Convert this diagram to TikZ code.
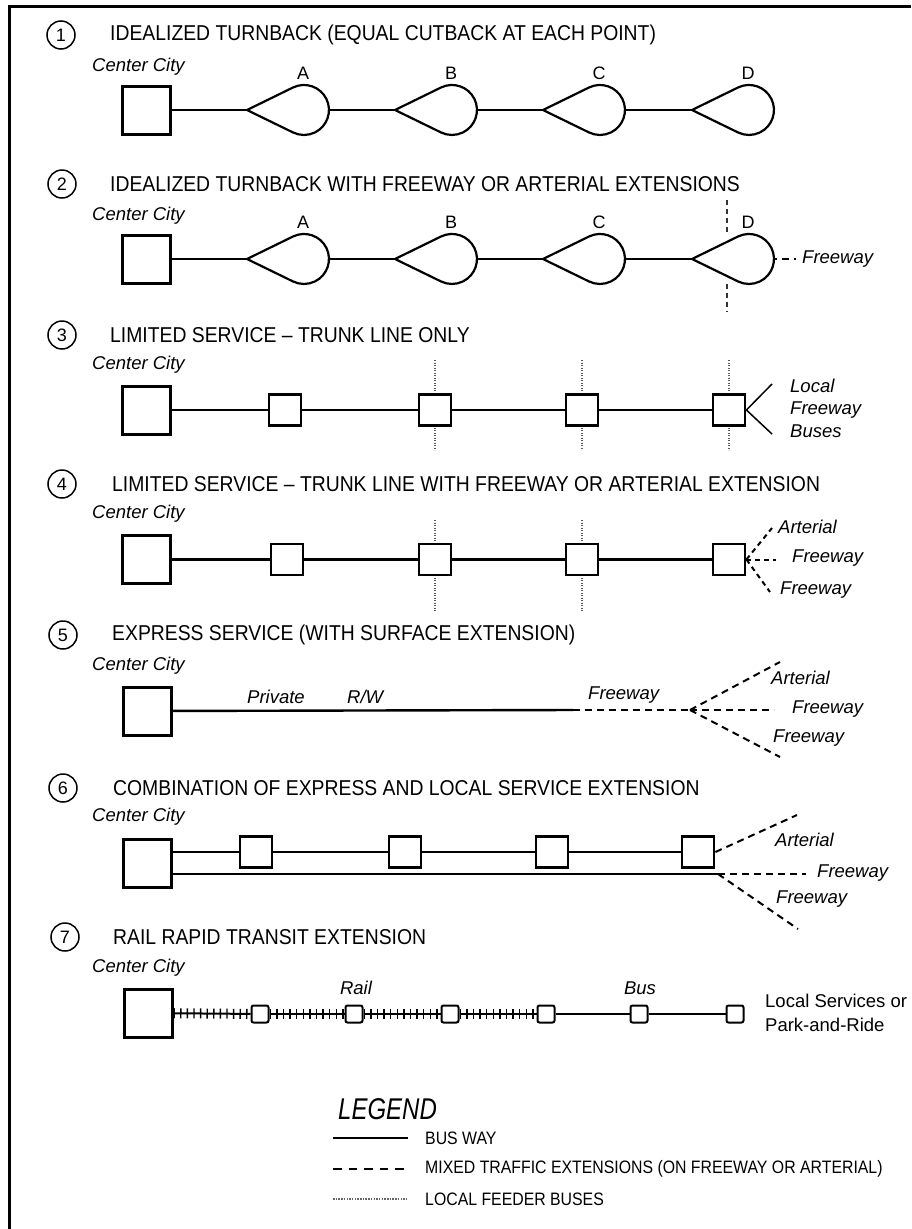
\documentclass[tikz,border=0pt]{standalone}
\usepackage{fontspec}
\setmainfont{Liberation Sans}
\newfontfamily\headfont[FakeStretch=0.9]{Liberation Sans}
\newfontfamily\legfont[FakeStretch=0.88]{Liberation Sans}
\newfontfamily\leghead[FakeStretch=0.8]{Liberation Sans}
\newcommand{\turnback}[4]{%
  \coordinate (#1-l) at (#2,#3);
  \coordinate (#1-r) at (#2+82,#3);
  \draw[loopline] (#1-l) -- ++(46,-22.5) arc[start angle=-116, end angle=116, radius=25] -- cycle;
  \node[stoplabel] (#1-t) at (#2+56,#3-37) {#4};
}

\begin{document}
\begin{tikzpicture}[x=1pt, y=-1pt,
    heading/.style={anchor=west, inner sep=0pt, font=\headfont\fontsize{21.5}{24}\selectfont},
    place/.style={anchor=west, inner sep=0pt, font=\itshape\fontsize{18.5}{22.5}\selectfont},
    stoplabel/.style={inner sep=0pt, font=\fontsize{18}{20}\selectfont},
    numcirc/.style={circle, draw, line width=1.5pt, minimum size=28pt, inner sep=0pt, font=\fontsize{18}{20}\selectfont},
    bigstop/.style={draw, fill=white, line width=3pt, minimum size=48pt, inner sep=0pt},
    stop/.style={draw, fill=white, line width=2.3pt, minimum width=32.5pt, minimum height=31pt, inner sep=0pt},
    minstop/.style={draw, fill=white, line width=2pt, rounded corners=2pt, minimum size=17pt, inner sep=0pt},
    busway/.style={line width=2.4pt},
    thinline/.style={line width=1.5pt},
    loopline/.style={line width=2.2pt},
    mixed/.style={line width=2pt, dash pattern=on 7pt off 5pt},
    feeder/.style={line width=1.6pt, black!65, dash pattern=on 1.2pt off 1.3pt},
    rail/.style={line width=2pt, postaction={draw, line width=10pt, dash pattern=on 1.4pt off 5.2pt}}]
    \useasboundingbox (0,0) rectangle (911,1229);
    \fill[white] (0,0) rectangle (911,1229);
    % frame
    \draw[line width=3pt] (9,1229) -- (9,6.5) -- (911,6.5);

    % 1: idealized turnback
    \node[numcirc] (n1) at (61,35) {1};
    \node[heading] (t1) at (110,35) {IDEALIZED TURNBACK (EQUAL CUTBACK AT EACH POINT)};
    \node[place] (c1) at (92,67) {Center City};
    \node[bigstop] (cc1) at (146.5,110) {};
    \turnback{a1}{247}{110}{A}
    \turnback{b1}{395}{110}{B}
    \turnback{d1}{543}{110}{C}
    \turnback{e1}{692}{110}{D}
    \draw[busway] (cc1) -- (a1-l);
    \draw[busway] (a1-r) -- (b1-l);
    \draw[busway] (b1-r) -- (d1-l);
    \draw[busway] (d1-r) -- (e1-l);

    % 2: turnback with freeway or arterial extensions
    \node[numcirc] (n2) at (62,184) {2};
    \node[heading] (t2) at (110,184) {IDEALIZED TURNBACK WITH FREEWAY OR ARTERIAL EXTENSIONS};
    \node[place] (c2) at (92,216) {Center City};
    \draw[feeder, line width=2.2pt, black!80, dash pattern=on 5pt off 4pt] (727,200) -- (727,234);
    \draw[feeder, line width=2.2pt, black!80, dash pattern=on 5pt off 4pt] (727,284) -- (727,312);
    \node[bigstop] (cc2) at (146.5,259) {};
    \turnback{a2}{247}{259}{A}
    \turnback{b2}{395}{259}{B}
    \turnback{d2}{543}{259}{C}
    \turnback{e2}{692}{259}{D}
    \draw[busway] (cc2) -- (a2-l);
    \draw[busway] (a2-r) -- (b2-l);
    \draw[busway] (b2-r) -- (d2-l);
    \draw[busway] (d2-r) -- (e2-l);
    \node[place] (f2) at (802,259) {Freeway};
    \draw[mixed, dash phase=4pt] (e2-r) -- ([xshift=-6pt]f2.west);

    % 3: limited service, trunk line only
    \node[numcirc] (n3) at (62,335) {3};
    \node[heading] (t3) at (110,335) {LIMITED SERVICE – TRUNK LINE ONLY};
    \node[place] (c3) at (92,365) {Center City};
    \foreach \x in {435,582,729}
        \draw[feeder] (\x,360) -- (\x,450);
    \node[bigstop] (cc3) at (146.5,410) {};
    \node[stop] (s31) at (285,410) {};
    \node[stop] (s32) at (435,410) {};
    \node[stop] (s33) at (582,410) {};
    \node[stop] (s34) at (729,410) {};
    \draw[busway] (cc3) -- (s31) -- (s32) -- (s33) -- (s34);
    \coordinate (v3a) at (772,384);
    \coordinate (v3b) at (772,434);
    \draw[thinline] (v3a) -- (s34.east) -- (v3b);
    \node[place, align=left] (lfb) at (790,408) {Local\\Freeway\\Buses};

    % 4: limited service with freeway or arterial extension
    \node[numcirc] (n4) at (62,484) {4};
    \node[heading] (t4) at (112,484) {LIMITED SERVICE – TRUNK LINE WITH FREEWAY OR ARTERIAL EXTENSION};
    \node[place] (c4) at (92,514) {Center City};
    \foreach \x in {435,582}
        \draw[feeder] (\x,520) -- (\x,612);
    \node[bigstop] (cc4) at (146.5,559.5) {};
    \node[stop] (s41) at (287,559.5) {};
    \node[stop] (s42) at (435,559.5) {};
    \node[stop] (s43) at (582,559.5) {};
    \node[stop] (s44) at (729,559.5) {};
    \draw[busway] (cc4) -- (s41) -- (s42) -- (s43) -- (s44);
    \node[place] (ar4) at (778,527) {Arterial};
    \node[place] (fa4) at (792,558) {Freeway};
    \node[place] (fb4) at (780,590) {Freeway};
    \coordinate (e4a) at (772,528);
    \coordinate (e4b) at (776,559.5);
    \coordinate (e4c) at (770,592);
    \draw[mixed, dash pattern=on 5pt off 4pt] (s44.east) -- (e4a);
    \draw[mixed, dash pattern=on 5pt off 4pt] (s44.east) -- (e4b);
    \draw[mixed, dash pattern=on 5pt off 4pt] (s44.east) -- (e4c);

    % 5: express service
    \node[numcirc] (n5) at (63,635) {5};
    \node[heading] (t5) at (112,635) {EXPRESS SERVICE (WITH SURFACE EXTENSION)};
    \node[place] (c5) at (92,666) {Center City};
    \node[bigstop] (cc5) at (147.5,711) {};
    \coordinate (x5) at (573,710);
    \coordinate (k5) at (690,710);
    \draw[busway] (cc5) -- (x5);
    \draw[mixed] (x5) -- (k5);
    \node[place] (pv5) at (247,697) {Private};
    \node[place] (rw5) at (347,697) {R/W};
    \node[place] (fw5) at (588,695) {Freeway};
    \coordinate (e5a) at (780,662);
    \coordinate (e5b) at (774,710);
    \coordinate (e5c) at (780,757);
    \draw[mixed] (k5) -- (e5a);
    \draw[mixed] (k5) -- (e5b);
    \draw[mixed] (k5) -- (e5c);
    \node[place] (ar5) at (771,678) {Arterial};
    \node[place] (fa5) at (792,709) {Freeway};
    \node[place] (fb5) at (773,738) {Freeway};

    % 6: express and local service combined
    \node[numcirc] (n6) at (63,788) {6};
    \node[heading] (t6) at (113,788) {COMBINATION OF EXPRESS AND LOCAL SERVICE EXTENSION};
    \node[place] (c6) at (92,817) {Center City};
    \node[bigstop] (cc6) at (147.5,863) {};
    \node[stop] (s61) at (256,852) {};
    \node[stop] (s62) at (405,852) {};
    \node[stop] (s63) at (552,852) {};
    \node[stop] (s64) at (698,852) {};
    \draw[busway] ([yshift=11pt]cc6.east) -- (s61) -- (s62) -- (s63) -- (s64);
    \coordinate (k6) at (718,874);
    \draw[busway] ([yshift=-11pt]cc6.east) -- (k6);
    \coordinate (e6a) at (797,815);
    \coordinate (e6b) at (806,874);
    \coordinate (e6c) at (798,929);
    \draw[mixed] (s64.east) -- (e6a);
    \draw[mixed] (k6) -- (e6b);
    \draw[mixed] (k6) -- (e6c);
    \node[place] (ar6) at (775,840) {Arterial};
    \node[place] (fa6) at (817,873) {Freeway};
    \node[place] (fb6) at (776,899) {Freeway};

    % 7: rail rapid transit extension
    \node[numcirc] (n7) at (65,937) {7};
    \node[heading] (t7) at (113,937) {RAIL RAPID TRANSIT EXTENSION};
    \node[place] (c7) at (92,968) {Center City};
    \node[bigstop] (cc7) at (148,1013) {};
    \foreach \x [count=\i] in {260,354,450,546,639,735}
        \node[minstop] (r\i) at (\x,1014) {};
    \draw[rail] (cc7) -- (r1);
    \draw[rail] (r1) -- (r2);
    \draw[rail] (r2) -- (r3);
    \draw[rail] (r3) -- (r4);
    \draw[busway] (r4) -- (r5) -- (r6);
    \node[place, anchor=center] (rl7) at (356,988) {Rail};
    \node[place, anchor=center] (bs7) at (640,988) {Bus};
    \node[anchor=west, inner sep=0pt, align=left, font=\fontsize{18.5}{24}\selectfont] (lsp) at (765,1013) {Local Services or\\Park-and-Ride};

    % legend
    \node[anchor=west, inner sep=0pt, font=\leghead\itshape\fontsize{30}{32}\selectfont] (lg) at (338,1109) {LEGEND};
    \node[anchor=west, inner sep=0pt, font=\legfont\fontsize{18}{20}\selectfont] (lw1) at (425,1138) {BUS WAY};
    \node[anchor=west, inner sep=0pt, font=\legfont\fontsize{18}{20}\selectfont] (lw2) at (425,1169) {MIXED TRAFFIC EXTENSIONS (ON FREEWAY OR ARTERIAL)};
    \node[anchor=west, inner sep=0pt, font=\legfont\fontsize{18}{20}\selectfont] (lw3) at (425,1199) {LOCAL FEEDER BUSES};
    \draw[line width=1.8pt] (333,1138) -- (408,1138);
    \draw[line width=1.8pt, dash pattern=on 8.5pt off 7pt] (333,1169) -- (410,1169);
    \draw[line width=1.3pt, black!60, dash pattern=on 1.5pt off 1.2pt] (333,1199) -- (408,1199);
\end{tikzpicture}
\end{document}
